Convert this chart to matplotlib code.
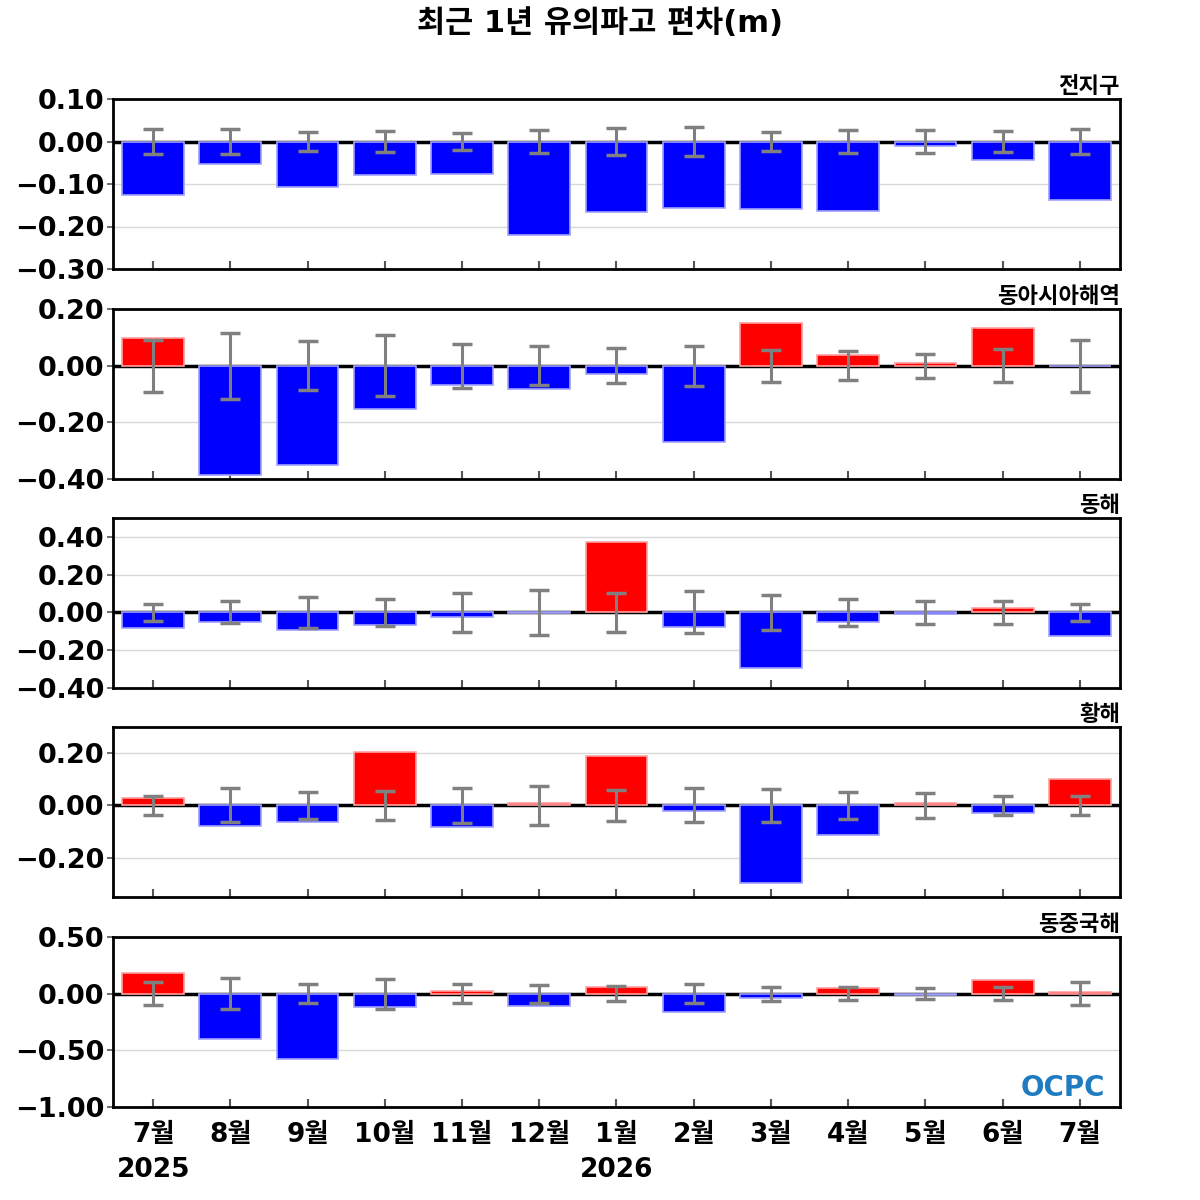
import matplotlib
matplotlib.use("Agg")
import matplotlib.pyplot as plt
from matplotlib.ticker import FuncFormatter, FixedLocator

plt.rcParams['font.family'] = ['DejaVu Sans', 'Noto Sans CJK KR']

months = ['7월', '8월', '9월', '10월', '11월', '12월', '1월', '2월', '3월', '4월', '5월', '6월', '7월']
year_labels = {0: '2025', 6: '2026'}

regions = ['전지구', '동아시아해역', '동해', '황해', '동중국해']

global_vals = [-0.125, -0.053, -0.107, -0.079, -0.076, -0.219, -0.166, -0.157, -0.159, -0.163, -0.010, -0.044, -0.137]
global_err = [0.029, 0.029, 0.023, 0.025, 0.021, 0.028, 0.032, 0.034, 0.022, 0.026, 0.026, 0.024, 0.029]

eastasia_vals = [0.099, -0.387, -0.351, -0.152, -0.068, -0.084, -0.029, -0.270, 0.150, 0.037, 0.009, 0.132, -0.002]
eastasia_err = [0.092, 0.116, 0.087, 0.107, 0.078, 0.069, 0.061, 0.070, 0.056, 0.051, 0.042, 0.058, 0.092]

east_vals = [-0.081, -0.051, -0.094, -0.067, -0.023, -0.005, 0.374, -0.078, -0.296, -0.051, -0.010, 0.025, -0.124]
east_err = [0.047, 0.058, 0.082, 0.072, 0.102, 0.121, 0.103, 0.111, 0.092, 0.071, 0.063, 0.059, 0.046]

yellow_vals = [0.030, -0.078, -0.065, 0.203, -0.082, 0.010, 0.190, -0.022, -0.295, -0.113, 0.010, -0.027, 0.100]
yellow_err = [0.037, 0.065, 0.051, 0.056, 0.066, 0.075, 0.060, 0.065, 0.062, 0.053, 0.049, 0.038, 0.037]

ecs_vals = [0.182, -0.400, -0.577, -0.118, 0.024, -0.109, 0.056, -0.162, -0.041, 0.047, -0.010, 0.121, 0.018]
ecs_err = [0.103, 0.134, 0.084, 0.132, 0.084, 0.078, 0.069, 0.084, 0.063, 0.059, 0.047, 0.057, 0.103]

series = [
    (global_vals, global_err),
    (eastasia_vals, eastasia_err),
    (east_vals, east_err),
    (yellow_vals, yellow_err),
    (ecs_vals, ecs_err),
]

ylims = [(-0.30, 0.10), (-0.40, 0.20), (-0.40, 0.50), (-0.35, 0.30), (-1.00, 0.50)]
yticks = [
    [-0.30, -0.20, -0.10, 0.00, 0.10],
    [-0.40, -0.20, 0.00, 0.20],
    [-0.40, -0.20, 0.00, 0.20, 0.40],
    [-0.20, 0.00, 0.20],
    [-1.00, -0.50, 0.00, 0.50],
]

fig = plt.figure(figsize=(12, 12), dpi=100)
fig.text(0.5, 0.981, '최근 1년 유의파고 편차(m)', ha='center', va='center',
         fontsize=22, fontweight='bold')

left = 113 / 1200
width = (1120 - 113) / 1200
height = 170 / 1200
bottoms_px = [269, 479, 688, 897, 1107]

fmt = FuncFormatter(lambda v, p: ('%.2f' % v).replace('-', '\u2212'))
x = list(range(len(months)))

for i, ((vals, errs), name) in enumerate(zip(series, regions)):
    ax = fig.add_axes([left, 1 - bottoms_px[i] / 1200, width, height])
    colors = ['#ff0000' if v >= 0 else '#0000ff' for v in vals]
    edges = ['#ffa0a0' if v >= 0 else '#a0a0ff' for v in vals]
    ax.axhline(0, color='black', lw=2.5, zorder=1)
    ax.bar(x, vals, width=0.8, color=colors, edgecolor=edges, linewidth=1.2, zorder=2)
    ax.errorbar(x, [0] * len(x), yerr=errs, fmt='none', ecolor='#808080',
                elinewidth=2.2, capsize=7, capthick=2.5, zorder=3)
    ax.set_xlim(-0.52, len(x) - 0.48)
    ax.set_ylim(*ylims[i])
    ax.yaxis.set_major_locator(FixedLocator(yticks[i]))
    ax.yaxis.set_major_formatter(fmt)
    ax.grid(axis='y', color='#d8d8d8', lw=1, zorder=0)
    ax.set_axisbelow(True)
    for s in ax.spines.values():
        s.set_linewidth(2)
        s.set_color('black')
    ax.set_xticks(x)
    ax.tick_params(axis='x', direction='in', length=6, width=1.5, color='#555555')
    ax.tick_params(axis='y', direction='out', length=4, width=1.2, color='#555555',
                   labelsize=19.5, pad=2)
    for lab in ax.get_yticklabels():
        lab.set_fontweight('bold')
    ax.set_title(name, loc='right', fontsize=16, fontweight='bold', pad=4)
    if i == len(series) - 1:
        labels = [m + ('\n' + year_labels[j] if j in year_labels else '') for j, m in enumerate(months)]
        ax.set_xticklabels(labels, fontsize=19, fontweight='bold', linespacing=1.45)
        ax.tick_params(axis='x', pad=11)
        ax.text(0.985, 0.11, 'OCPC', transform=ax.transAxes, ha='right', va='center',
                fontsize=20, fontweight='bold', color='#1f7cc0')
    else:
        ax.set_xticklabels([])

fig.savefig('out.png', dpi=100)
